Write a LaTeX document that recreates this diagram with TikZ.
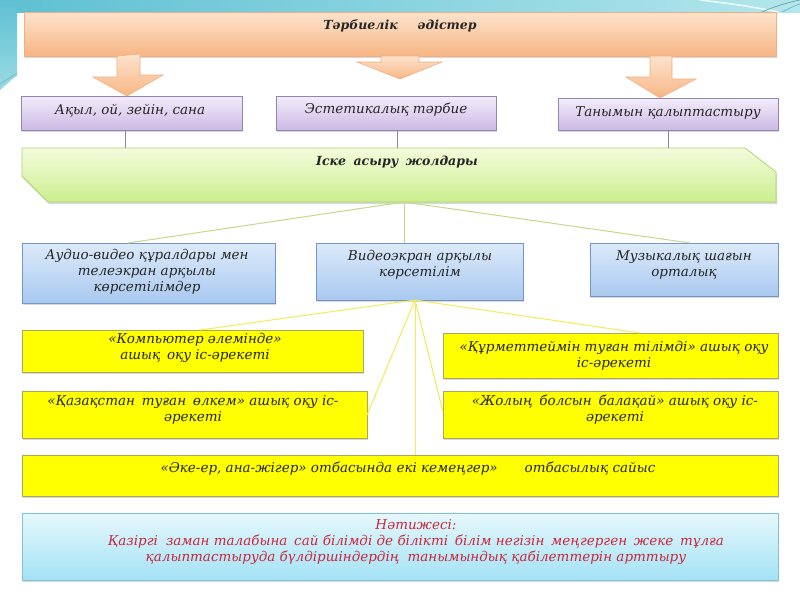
\documentclass[tikz,border=0pt]{standalone}
\usepackage{fontspec}
\setmainfont{DejaVu Serif}
\usetikzlibrary{shadows,calc}
\definecolor{bgA}{HTML}{5EC0D2}
\definecolor{bgB}{HTML}{B4E6EC}
\definecolor{oT}{HTML}{FDE3CE}
\definecolor{oB}{HTML}{F7B684}
\definecolor{oD}{HTML}{F3AE80}
\definecolor{pT}{HTML}{F3EDFA}
\definecolor{pB}{HTML}{CDB9E6}
\definecolor{pD}{HTML}{9484B4}
\definecolor{pL}{HTML}{8E84A6}
\definecolor{gT}{HTML}{F4FCDD}
\definecolor{gB}{HTML}{CBEE8E}
\definecolor{gD}{HTML}{AFD472}
\definecolor{gL}{HTML}{C5D98A}
\definecolor{bT}{HTML}{DCEAFA}
\definecolor{bB}{HTML}{A9C9F0}
\definecolor{bD}{HTML}{7196C8}
\definecolor{yF}{HTML}{FFFF00}
\definecolor{yD}{HTML}{A8A860}
\definecolor{yL}{HTML}{F2EC55}
\definecolor{cT}{HTML}{E6F8FC}
\definecolor{cB}{HTML}{A3E2F5}
\definecolor{cD}{HTML}{80C3D8}
\definecolor{tx}{HTML}{262626}
\definecolor{rd}{HTML}{C8283C}
\tikzset{
  shad/.style={drop shadow={opacity=0.3, shadow xshift=1pt, shadow yshift=-2pt}},
  box/.style={draw, inner sep=0pt, outer sep=0pt, line width=0.8pt, shad},
  obox/.style={box, draw=oD, top color=oT, bottom color=oB},
  pbox/.style={box, draw=pD, top color=pT, bottom color=pB},
  bbox/.style={box, draw=bD, top color=bT, bottom color=bB},
  ybox/.style={box, draw=yD, fill=yF},
  cbox/.style={box, draw=cD, top color=cT, bottom color=cB},
  txt/.style={font=\itshape\fontsize{13.5}{16}\selectfont, text=tx, align=center, inner sep=0pt},
  btxt/.style={font=\bfseries\itshape\fontsize{12.5}{15}\selectfont, text=tx, align=center, inner sep=0pt},
  arr/.style={draw=oD, line width=0.6pt, top color=oT, bottom color=oB},
  pline/.style={draw=pL, line width=0.8pt},
  gline/.style={draw=gL, line width=1pt},
  yline/.style={draw=yL, line width=1pt},
}
\begin{document}
\begin{tikzpicture}[x=1pt,y=-1pt]
\useasboundingbox (0,0) rectangle (800,600);
\fill[white] (0,0) rectangle (800,600);
% background decoration
\shade[left color=bgA, right color=bgB] (0,0) rectangle (800,12);
\shade[top color=bgA, bottom color=bgB!70!bgA] (0,0) -- (17,0) -- (17,76) -- (0,90) -- cycle;
\draw[white, line width=1.5pt] (0,92) .. controls (6,86) and (12,80) .. (17,77);
\draw[bgA!80!black, line width=0.5pt, opacity=0.6] (0,84) .. controls (6,80) and (12,76) .. (17,73);
\draw[white, line width=1.5pt, opacity=0.8] (700,0) .. controls (735,4) and (760,8) .. (778,12);
\draw[bgA!70!black, line width=0.7pt, opacity=0.7] (762,12) .. controls (775,6) and (790,2) .. (800,0);
\draw[bgA, line width=0.7pt] (782,12) .. controls (790,8) and (796,5) .. (800,4);

% top box and arrows
\node[obox, minimum width=752pt, minimum height=44pt] (top) at (400,34) {};
\node[btxt] (ttop) at (400,26) {Тәрбиелік\hspace{1.6em}әдістер};

\node[pbox, minimum width=221pt, minimum height=34pt] (ak) at (131.5,113) {};
\node[pbox, minimum width=220pt, minimum height=34pt] (es) at (386,113) {};
\node[pbox, minimum width=220pt, minimum height=32pt] (tn) at (668,114) {};
\node[txt] (akt) at (130,111) {Ақыл, ой, зейін, сана};
\node[txt] (est) at (386,110) {Эстетикалық тәрбие};
\node[txt] (tnt) at (668,113) {Танымын қалыптастыру};

% block arrows
\path[arr] ($(top.south west)+(93,0)$) -- ++(0,21) -- ++(-24,0) -- (ak.north -| 127,0) -- ++(36,-21) -- ++(-23,0) -- ++(0,-21) -- cycle;
\path[arr] ($(top.south)+(-19,0)$) -- ++(0,6) -- ++(-24,0) -- (400,79) -- ++(42,-17) -- ++(-23,0) -- ++(0,-6) -- cycle;
\path[arr] ($(top.south west)+(626,0)$) -- ++(0,21) -- ++(-24,0) -- (tn.north -| 660,0) -- ++(36,-19) -- ++(-24,0) -- ++(0,-23) -- cycle;

% green banner
\node[minimum width=754pt, minimum height=54pt, inner sep=0pt, outer sep=0pt] (isk) at (399,175) {};
\shade[top color=gT, bottom color=gB, draw=gD, line width=0.8pt, shad]
  (isk.north west) -- ($(isk.north east)+(-31,0)$) -- ($(isk.north east)+(0,24)$)
  -- (isk.south east) -- ($(isk.south west)+(26,0)$) -- ($(isk.south west)+(0,-26)$) -- cycle;
\node[btxt] (iskt) at (397,162) {Іске\hspace{0.6em}асыру\hspace{0.6em}жолдары};

\draw[pline] (ak.south -| 125,0) -- (isk.north -| 125,0);
\draw[pline] (es.south -| 397,0) -- (isk.north -| 397,0);
\draw[pline] (tn.south -| 668,0) -- (isk.north -| 668,0);

% blue boxes
\node[bbox, minimum width=253pt, minimum height=60pt] (au) at (148.5,273) {};
\node[bbox, minimum width=207pt, minimum height=57pt] (vi) at (419.5,271.5) {};
\node[bbox, minimum width=188pt, minimum height=53pt] (mu) at (684,269.5) {};
\node[txt] (aut) at (147,271.5) {Аудио-видео құралдары мен\\телеэкран арқылы\\көрсетілімдер};
\node[txt] (vit) at (420,264.5) {Видеоэкран арқылы\\көрсетілім};
\node[txt] (mut) at (684,264.5) {Музыкалық шағын\\орталық};

\coordinate (gap) at (404,202);
\draw[gline] (gap) -- (au.north -| 128,0);
\draw[gline] (gap) -- (vi.north -| 404,0);
\draw[gline] (gap) -- (mu.north -| 690,0);

% yellow boxes
\node[ybox, minimum width=341pt, minimum height=42pt] (y1) at (192.5,351) {};
\node[ybox, minimum width=335pt, minimum height=45pt] (y2) at (610.5,355.5) {};
\node[ybox, minimum width=345pt, minimum height=47pt] (y3) at (194.5,414.5) {};
\node[ybox, minimum width=335pt, minimum height=47pt] (y4) at (610.5,414.5) {};
\node[ybox, minimum width=756pt, minimum height=41pt] (y5) at (400,475.5) {};
\node[txt] (y1t) at (195,348) {«Компьютер әлемінде»\\ашық\hspace{0.5em}оқу іс-әрекеті};
\node[txt] (y2t) at (614,356) {«Құрметтеймін туған тілімді» ашық оқу\\іс-әрекеті};
\node[txt] (y3t) at (193,410) {«Қазақстан\hspace{0.5em}туған\hspace{0.5em}өлкем» ашық оқу іс-\\әрекеті};
\node[txt] (y4t) at (615,410) {«Жолың\hspace{0.5em}болсын\hspace{0.5em}балақай» ашық оқу іс-\\әрекеті};
\node[txt] (y5t) at (408,469) {«Әке-ер, ана-жігер» отбасында екі кемеңгер»\hspace{2em}отбасылық сайыс};

\coordinate (yap) at (415,300);
\draw[yline] (yap) -- (y1.north -| 200,0);
\draw[yline] (yap) -- (y3.east |- 0,415);
\draw[yline] (yap) -- (y5.north -| 415,0);
\draw[yline] (yap) -- (y4.west |- 0,412);
\draw[yline] (yap) -- (y2.north -| 640,0);

% result box
\node[cbox, minimum width=756pt, minimum height=67pt] (res) at (400,546.5) {};
\node[txt, text=rd] (rest) at (416,542) {Нәтижесі:\\Қазіргі\hspace{0.6em}заман талабына\hspace{0.5em}сай білімді де білікті\hspace{0.5em}білім негізін\hspace{0.5em}меңгерген\hspace{0.5em}жеке\hspace{0.5em}тұлға\\қалыптастыруда бүлдіршіндердің\hspace{0.6em}танымындық қабілеттерін арттыру};
\end{tikzpicture}
\end{document}
